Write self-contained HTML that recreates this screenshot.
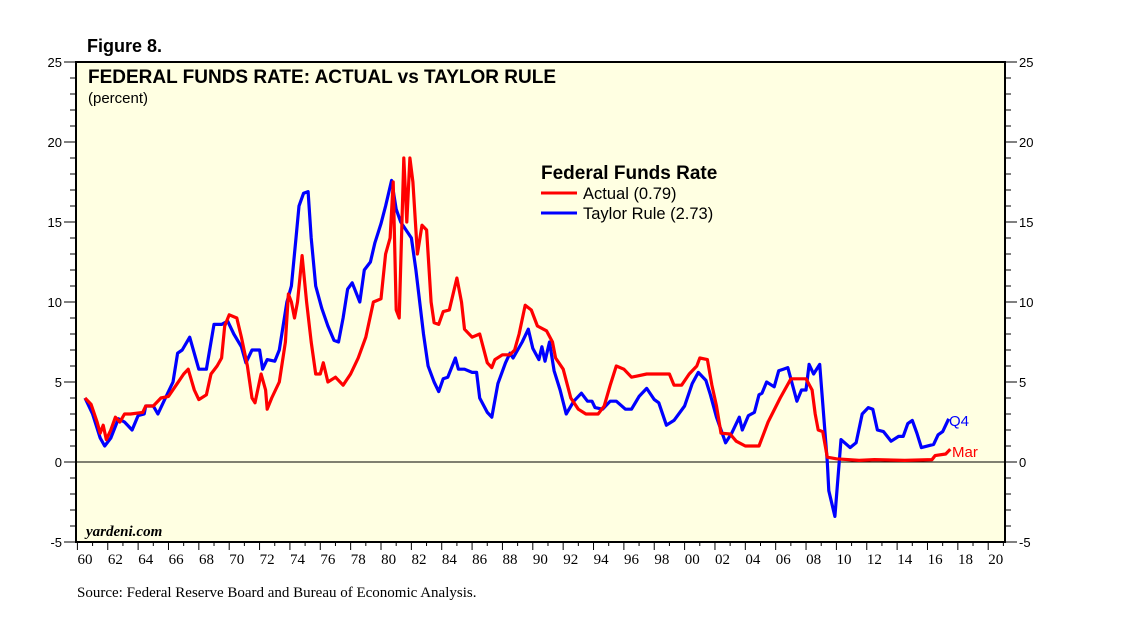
<!DOCTYPE html>
<html><head><meta charset="utf-8"><style>
body{margin:0;background:#fff;}
svg{display:block;}
</style></head><body>
<svg id="chart" width="1138" height="621" xmlns="http://www.w3.org/2000/svg">
<text x="87" y="52" font-family="Liberation Sans, sans-serif" font-weight="bold" font-size="18">Figure 8.</text>
<rect x="76" y="62" width="929" height="480" fill="#ffffe2" stroke="#000" stroke-width="2"/>
<g id="axes"></g>
<g id="series"></g>
<text x="88" y="83" font-family="Liberation Sans, sans-serif" font-weight="bold" font-size="19">FEDERAL FUNDS RATE: ACTUAL vs TAYLOR RULE</text>
<text x="88" y="103" font-family="Liberation Sans, sans-serif" font-size="15">(percent)</text>
<g font-family="Liberation Sans, sans-serif">
<text x="541" y="179" font-weight="bold" font-size="19">Federal Funds Rate</text>
<line x1="541" y1="193" x2="577" y2="193" stroke="#f00" stroke-width="3"/>
<text x="583" y="199" font-size="16.5">Actual (0.79)</text>
<line x1="541" y1="213" x2="577" y2="213" stroke="#00f" stroke-width="3"/>
<text x="583" y="219" font-size="16.5">Taylor Rule (2.73)</text>
</g>
<text x="949" y="426" fill="#00f" font-family="Liberation Sans, sans-serif" font-size="15">Q4</text>
<text x="952" y="457" fill="#f00" font-family="Liberation Sans, sans-serif" font-size="15">Mar</text>
<text x="86" y="536" font-family="Liberation Serif, serif" font-style="italic" font-weight="bold" font-size="15">yardeni.com</text>
<text x="77" y="597" font-family="Liberation Serif, serif" font-size="15">Source: Federal Reserve Board and Bureau of Economic Analysis.</text>
</svg>
<script>
const yTicks=[-5,0,5,10,15,20,25];
const xTickLabels=["60","62","64","66","68","70","72","74","76","78","80","82","84","86","88","90","92","94","96","98","00","02","04","06","08","10","12","14","16","18","20"];
const actualYears=[1960,1960.4,1960.8,1961,1961.2,1961.4,1961.7,1962,1962.3,1962.6,1963,1963.8,1964,1964.5,1965,1965.5,1966,1966.5,1966.8,1967.2,1967.5,1968,1968.3,1968.7,1969,1969.2,1969.5,1970,1970.3,1970.7,1971,1971.2,1971.6,1971.9,1972,1972.3,1972.8,1973.2,1973.4,1973.6,1973.8,1974,1974.3,1974.6,1974.9,1975.2,1975.5,1975.7,1976,1976.5,1977,1977.5,1978,1978.5,1979,1979.5,1979.8,1980.1,1980.3,1980.5,1980.7,1981,1981.2,1981.4,1981.6,1981.9,1982.2,1982.5,1982.8,1983,1983.3,1983.6,1984,1984.5,1984.8,1985,1985.5,1986,1986.5,1986.8,1987,1987.5,1988,1988.3,1988.6,1989,1989.4,1989.8,1990.4,1990.8,1991,1991.5,1992,1992.5,1993,1993.8,1994.2,1994.6,1995,1995.5,1996,1997,1998,1998.5,1998.8,1999.3,1999.8,2000.3,2000.5,2001,2001.3,2001.6,2001.9,2002.5,2002.9,2003.5,2004.4,2005,2005.8,2006.5,2007.5,2007.9,2008.1,2008.3,2008.6,2008.9,2009.5,2011,2012,2014,2015.8,2016,2016.7,2017];
const actualValues=[4.0,3.6,2.5,1.8,2.3,1.4,2.0,2.8,2.5,3.0,3.0,3.1,3.5,3.5,4.0,4.1,4.8,5.5,5.8,4.5,3.9,4.2,5.5,6.0,6.5,8.5,9.2,9.0,7.8,6.0,4.0,3.7,5.5,4.5,3.3,4.0,5.0,7.5,10.5,10.0,9.0,10.0,12.9,10.0,7.5,5.5,5.5,6.2,5.0,5.3,4.8,5.5,6.5,7.8,10.0,10.2,13.0,14.0,17.5,9.5,9.0,19.0,15.0,19.0,17.5,13.0,14.8,14.5,10.0,8.7,8.6,9.4,9.5,11.5,10.0,8.3,7.8,8.0,6.2,5.9,6.4,6.7,6.7,7.0,8.0,9.8,9.5,8.5,8.2,7.5,6.5,5.8,4.0,3.3,3.0,3.0,3.5,4.8,6.0,5.8,5.3,5.5,5.5,5.5,4.8,4.8,5.5,6.0,6.5,6.4,4.8,3.5,1.8,1.75,1.3,1.0,1.0,2.5,4.0,5.2,5.2,4.5,3.0,2.0,1.9,0.3,0.2,0.1,0.15,0.1,0.15,0.4,0.5,0.8];
const taylorYears=[1960,1960.5,1961,1961.3,1961.7,1962.2,1962.6,1963.1,1963.5,1963.9,1964,1964.5,1964.8,1965.2,1965.8,1966.1,1966.4,1966.9,1967.5,1968,1968.3,1968.5,1969,1969.4,1969.8,1970.3,1970.6,1971,1971.5,1971.7,1972,1972.5,1972.8,1973.3,1973.6,1973.9,1974.1,1974.4,1974.7,1974.9,1975.2,1975.6,1976,1976.4,1976.7,1977,1977.3,1977.6,1978.1,1978.4,1978.8,1979.1,1979.5,1979.8,1980.2,1980.5,1980.8,1981.5,1981.8,1982.3,1982.6,1983,1983.3,1983.6,1983.9,1984.4,1984.6,1985,1985.5,1985.8,1986,1986.5,1986.8,1987.2,1987.7,1988,1988.2,1988.8,1989.2,1989.5,1989.9,1990.1,1990.3,1990.6,1990.9,1991.3,1991.7,1992.2,1992.7,1993.1,1993.4,1993.6,1994.1,1994.6,1995,1995.6,1996,1996.5,1997,1997.5,1997.8,1998.3,1998.8,1999.5,2000,2000.4,2000.9,2001.2,2001.6,2002.2,2002.6,2003.1,2003.3,2003.7,2004.1,2004.4,2004.6,2004.9,2005.4,2005.7,2006,2006.3,2006.9,2007.2,2007.5,2007.7,2008,2008.4,2008.9,2009,2009.4,2009.8,2010.4,2010.8,2011.2,2011.6,2011.9,2012.2,2012.6,2013.1,2013.6,2013.9,2014.2,2014.5,2014.8,2015.1,2015.9,2016.2,2016.5,2016.9];
const taylorValues=[4.0,3.0,1.5,1.0,1.5,2.7,2.5,2.0,2.9,3.0,3.5,3.5,3.0,3.8,5.0,6.8,7.0,7.8,5.8,5.8,7.5,8.6,8.6,8.8,8.0,7.2,6.2,7.0,7.0,5.8,6.4,6.3,7.0,10.0,11.0,14.0,16.0,16.8,16.9,14.0,11.0,9.6,8.5,7.6,7.5,9.0,10.8,11.2,10.0,12.0,12.5,13.7,14.9,16.0,17.6,15.8,15.0,14.0,12.0,8.0,6.0,5.0,4.4,5.2,5.3,6.5,5.8,5.8,5.6,5.6,4.0,3.1,2.8,4.9,6.2,6.8,6.5,7.5,8.3,7.1,6.4,7.2,6.3,7.5,5.7,4.5,3.0,3.8,4.3,3.8,3.8,3.4,3.3,3.8,3.8,3.3,3.3,4.1,4.6,3.9,3.7,2.3,2.6,3.5,4.9,5.6,5.1,4.2,2.8,1.2,1.8,2.8,2.0,2.9,3.1,4.2,4.3,5.0,4.7,5.7,5.8,5.9,3.8,4.5,4.5,6.1,5.5,6.1,0.0,-1.8,-3.4,1.4,0.9,1.2,3.0,3.4,3.3,2.0,1.9,1.3,1.6,1.6,2.4,2.6,1.8,0.9,1.1,1.7,1.9,2.7];

const NS='http://www.w3.org/2000/svg';
const x0=85, pxPerYear=15.18, y0=462, pxPerUnit=16;
function xScale(yr){return x0+(yr-1960)*pxPerYear;}
function yScale(v){return y0-v*pxPerUnit;}
function mk(tag,attrs,parent){const e=document.createElementNS(NS,tag);for(const k in attrs)e.setAttribute(k,attrs[k]);parent.appendChild(e);return e;}
const axes=document.getElementById('axes');
const zl=mk('line',{x1:76,x2:1005,y1:yScale(0),y2:yScale(0),stroke:'#000','stroke-width':1},axes);


for(let v=-5;v<=25;v++){
  const l1=mk('line',{x1:70,x2:76,y1:yScale(v),y2:yScale(v),stroke:'#000','stroke-width':1},axes);
  
  
  const l2=mk('line',{x1:1005,x2:1011,y1:yScale(v),y2:yScale(v),stroke:'#000','stroke-width':1},axes);
  
  
}
yTicks.forEach(v=>{
  const l=mk('line',{x1:64,x2:76,y1:yScale(v),y2:yScale(v),stroke:'#000','stroke-width':1},axes);
  
  
  const r=mk('line',{x1:1005,x2:1017,y1:yScale(v),y2:yScale(v),stroke:'#000','stroke-width':1},axes);
  
  
  const t=mk('text',{x:62,y:yScale(v)+5,'text-anchor':'end','font-family':'Liberation Sans, sans-serif','font-size':13},axes);
  t.textContent=v;
  
  
  const t2=mk('text',{x:1019,y:yScale(v)+5,'font-family':'Liberation Sans, sans-serif','font-size':13},axes);
  t2.textContent=v;
  
  
});
for(let yr=1960;yr<=2021;yr++){
  const major=(yr%2===0);
  const l=mk('line',{x1:xScale(yr)-7.6,x2:xScale(yr)-7.6,y1:542,y2:major?550:546,stroke:'#000','stroke-width':1},axes);
  
  
}
xTickLabels.forEach((lab,i)=>{
  const t=mk('text',{x:xScale(1960+2*i),y:564,'text-anchor':'middle','font-family':'Liberation Serif, serif','font-size':15},axes);
  t.textContent=lab;
  
  
});
const series=document.getElementById('series');
function line(xs,vs,color,name){
  const d=xs.map((yr,i)=>(i?'L':'M')+xScale(yr).toFixed(1)+' '+yScale(vs[i]).toFixed(1)).join(' ');
  const p=mk('path',{d:d,fill:'none',stroke:color,'stroke-width':3.2,'stroke-linejoin':'round'},series);
  
  
}
line(taylorYears,taylorValues,'#00f','taylor-rule-line');
line(actualYears,actualValues,'#f00','actual-rate-line');
</script>
</body></html>
